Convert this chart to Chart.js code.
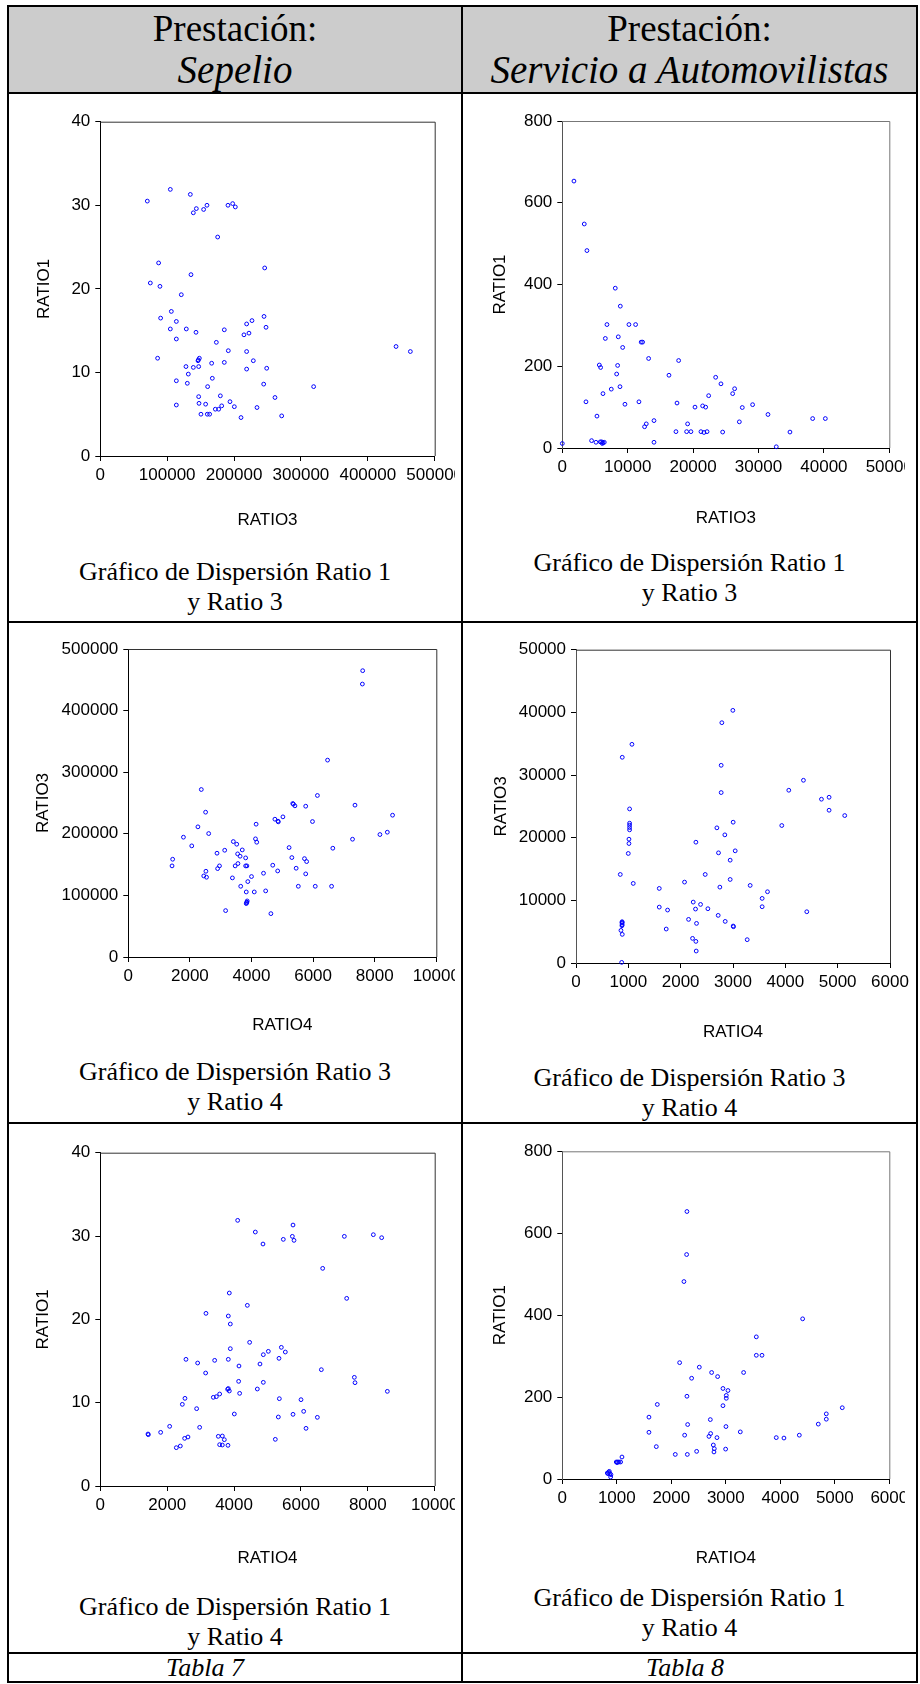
<!DOCTYPE html>
<html>
<head>
<meta charset="utf-8">
<script src="https://cdn.jsdelivr.net/npm/chart.js@4.4.1/dist/chart.umd.min.js"></script>
<style>
  html, body { margin: 0; padding: 0; background: #fff; }
  #page { position: relative; width: 920px; height: 1684px; overflow: hidden; background: #fff; }
  .ln { position: absolute; background: #000; }
  .hdr { position: absolute; background: #cccccc; }
  .txt { position: absolute; text-align: center; font-family: "Liberation Serif", "Times New Roman", serif; color: #000; white-space: nowrap; }
  canvas { position: absolute; }
</style>
</head>
<body>
<div id="page">
  <div class="hdr" style="left:9px; top:7px; width:907px; height:85px;"></div>

  <div class="txt" style="left:9px; top:7.5px; width:452px; font-size:37px; line-height:42px;">Prestación:</div>
  <div class="txt" style="left:9px; top:48px; width:452px; font-size:39px; line-height:44px;"><i>Sepelio</i></div>
  <div class="txt" style="left:463px; top:7.5px; width:453px; font-size:37px; line-height:42px;">Prestación:</div>
  <div class="txt" style="left:463px; top:48px; width:453px; font-size:39px; line-height:44px;"><i>Servicio a Automovilistas</i></div>

  <canvas id="c1"></canvas>
  <canvas id="c2"></canvas>
  <canvas id="c3"></canvas>
  <canvas id="c4"></canvas>
  <canvas id="c5"></canvas>
  <canvas id="c6"></canvas>

  <div class="txt" style="left:9px; top:557px; width:452px; font-size:26px; line-height:29.5px;">Gráfico de Dispersión Ratio 1<br>y Ratio 3</div>
  <div class="txt" style="left:463px; top:548px; width:453px; font-size:26px; line-height:29.5px;">Gráfico de Dispersión Ratio 1<br>y Ratio 3</div>
  <div class="txt" style="left:9px; top:1057px; width:452px; font-size:26px; line-height:29.5px;">Gráfico de Dispersión Ratio 3<br>y Ratio 4</div>
  <div class="txt" style="left:463px; top:1063px; width:453px; font-size:26px; line-height:29.5px;">Gráfico de Dispersión Ratio 3<br>y Ratio 4</div>
  <div class="txt" style="left:9px; top:1592px; width:452px; font-size:26px; line-height:29.5px;">Gráfico de Dispersión Ratio 1<br>y Ratio 4</div>
  <div class="txt" style="left:463px; top:1583px; width:453px; font-size:26px; line-height:29.5px;">Gráfico de Dispersión Ratio 1<br>y Ratio 4</div>

  <div class="txt" style="left:105px; top:1654px; width:200px; font-size:26px; line-height:28px;"><i>Tabla 7</i></div>
  <div class="txt" style="left:585px; top:1654px; width:200px; font-size:26px; line-height:28px;"><i>Tabla 8</i></div>

  <!-- bordes de la tabla -->
  <div class="ln" style="left:7px; top:5px; width:911px; height:2px;"></div>
  <div class="ln" style="left:7px; top:92px; width:911px; height:2px;"></div>
  <div class="ln" style="left:7px; top:621px; width:911px; height:2px;"></div>
  <div class="ln" style="left:7px; top:1122px; width:911px; height:2px;"></div>
  <div class="ln" style="left:7px; top:1652px; width:911px; height:2px;"></div>
  <div class="ln" style="left:7px; top:1681px; width:911px; height:2px;"></div>
  <div class="ln" style="left:7px; top:5px; width:2px; height:1678px;"></div>
  <div class="ln" style="left:461px; top:5px; width:2px; height:1678px;"></div>
  <div class="ln" style="left:916px; top:5px; width:2px; height:1678px;"></div>
</div>

<script>
// Sepelio: RATIO3 (x) vs RATIO1 (y)
const sepelioR3R1 = [
  [70300,30.5],[104700,31.9],[134600,31.3],[143600,29.6],[159500,30.0],[139100,29.1],
  [154500,29.5],[190900,30.0],[197900,30.2],[201900,29.8],[175500,26.2],[87200,23.1],
  [245800,22.5],[135600,21.7],[74800,20.7],[89200,20.3],[121100,19.3],[106200,17.3],
  [90200,16.5],[113700,16.1],[244800,16.7],[226800,16.2],[218800,15.8],[104700,15.2],
  [128600,15.2],[185400,15.1],[247800,15.4],[143100,14.8],[222300,14.7],[214800,14.5],
  [113700,14.0],[173500,13.6],[442200,13.1],[463600,12.5],[191400,12.6],[218800,12.5],
  [85700,11.7],[148100,11.7],[146600,11.5],[146100,11.4],[228800,11.4],[185400,11.2],
  [166500,11.1],[128100,10.7],[139100,10.6],[147100,10.7],[248800,10.5],[218800,10.4],
  [131600,9.8],[167500,9.3],[113700,9.0],[130100,8.7],[244300,8.6],[160500,8.3],
  [319000,8.3],[147100,7.1],[179500,7.2],[261200,7.0],[193900,6.5],[147600,6.3],
  [157500,6.2],[113700,6.1],[181500,6.0],[200400,5.9],[172000,5.6],[177000,5.6],
  [234300,5.8],[150500,5.0],[160000,5.0],[163500,5.0],[210400,4.6],[271200,4.8]
];

// Servicio a Automovilistas: RATIO3 (x) vs RATIO1 (y)
const autoR3R1 = [
  [0,11],[1780,653],[3360,548],[3770,483],[3620,113],[4480,18],[5150,14],[5300,78],
  [5660,203],[5860,197],[5810,15],[6020,15],[6220,13],[6420,14],[6120,11],[6220,133],
  [6580,268],[6830,302],[7490,144],[8100,391],[8310,181],[8460,202],[8560,272],[8820,150],
  [8870,347],[9230,246],[9580,107],[10190,302],[11210,302],[11720,113],[12060,259],[12280,259],
  [12580,52],[12840,59],[13200,219],[14020,67],[14020,14],[16310,178],[17380,40],[17540,110],
  [17790,214],[19010,40],[19160,59],[19670,40],[20290,100],[21200,40],[21460,103],[21660,38],
  [21920,100],[22130,40],[22380,128],[23450,173],[24260,157],[24520,39],[26050,133],[26350,145],
  [27070,64],[27520,99],[29100,106],[31450,82],[32720,3],[34810,39],[38280,72],[40220,72]
];

// Sepelio: RATIO4 (x) vs RATIO3 (y)
const sepelioR4R3 = [
  [1420,147900],[1440,158700],[1790,194500],[2060,180400],[2260,211300],[2370,271900],
  [2450,131600],[2510,235100],[2520,139200],[2540,129500],[2610,200400],[2880,168500],
  [2900,143500],[2960,147900],[3130,173300],[3160,75300],[3380,128400],[3410,187400],
  [3470,147900],[3520,183100],[3550,167400],[3560,151700],[3630,163600],[3650,114800],
  [3700,173800],[3810,160900],[3810,147900],[3850,147900],[3830,105600],[3830,86700],
  [3850,89000],[3860,91000],[3840,88000],[3880,122400],[4000,130600],[4090,105600],
  [4130,191800],[4150,215600],[4170,186300],[4390,136000],[4460,107300],[4630,70400],
  [4690,149000],[4760,223700],[4850,139700],[4860,220500],[4870,219400],[5020,227500],
  [5220,177600],[5310,161400],[5340,249200],[5360,248100],[5410,245400],[5450,144100],
  [5520,114800],[5720,159700],[5760,244800],[5760,134900],[5790,154900],[5980,219900],
  [6070,114800],[6140,262200],[6470,319600],[6600,114800],[6640,176600],[7280,191200],
  [7360,246500],[7600,443100],[7610,464800],[8170,198800],[8410,202600],[8580,230200]
];

// Servicio a Automovilistas: RATIO4 (x) vs RATIO3 (y)
const autoR4R3 = [
  [846,14130],[859,5200],[884,4570],[884,32830],[880,6370],[882,6110],[880,6480],[878,5950],
  [881,6590],[873,100],[1069,34900],[1024,24590],[1024,22310],[1024,21990],[1024,21620],[1024,21250],
  [1012,19760],[1012,19070],[999,17480],[1094,12700],[1591,11900],[1591,8920],[1750,8450],[1724,5420],
  [2074,12910],[2151,6960],[2227,3930],[2240,9720],[2284,8610],[2291,19280],[2303,6320],[2291,3450],
  [2297,1910],[2380,9350],[2469,14130],[2520,8660],[2692,21570],[2717,7600],[2723,17580],[2749,12110],
  [2787,38350],[2774,31550],[2774,27200],[2844,20450],[2851,6640],[2946,16410],[2946,13330],[2997,40320],
  [3003,22470],[3003,5900],[3010,5790],[3042,17900],[3271,3720],[3328,12380],[3557,10310],[3557,8980],
  [3659,11370],[3932,21940],[4066,27570],[4346,29160],[4410,8180],[4690,26140],[4836,26450],[4836,24380],
  [5135,23530]
];

// Sepelio: RATIO4 (x) vs RATIO1 (y)
const sepelioR4R1 = [
  [1426,6.24],[1436,6.16],[1805,6.44],[2074,7.16],[2273,4.6],[2393,4.8],[2453,9.8],[2522,5.72],
  [2532,10.52],[2562,15.2],[2622,5.88],[2881,9.28],[2911,14.76],[2971,7.04],[3150,13.56],[3160,20.72],
  [3380,10.64],[3420,15.08],[3470,10.72],[3529,5.96],[3569,4.96],[3569,11.04],[3649,6.0],[3649,4.92],
  [3709,5.56],[3808,11.6],[3828,11.7],[3858,11.4],[3818,4.88],[3828,15.2],[3828,20.4],[3858,23.16],
  [3888,16.48],[3888,19.44],[4008,8.64],[4108,31.88],[4137,12.56],[4147,14.4],[4167,11.12],[4397,21.68],
  [4466,17.24],[4636,30.48],[4696,11.64],[4775,14.64],[4865,29.04],[4875,15.76],[4875,12.44],[5025,16.16],
  [5234,5.6],[5324,8.28],[5344,15.32],[5354,10.48],[5414,16.64],[5473,29.6],[5533,16.08],[5743,29.96],
  [5763,31.32],[5793,29.48],[5763,8.6],[6002,10.36],[6082,8.96],[6152,6.92],[6491,8.24],[6610,13.96],
  [6650,26.12],[7298,29.96],[7368,22.52],[7597,13.04],[7617,12.4],[8165,30.16],[8414,29.8],[8584,11.36]
];

// Servicio a Automovilistas: RATIO4 (x) vs RATIO1 (y)
const autoR4R1 = [
  [826,14.6],[850,16.3],[875,13],[893,10.6],[862,18.7],[838,13],[887,4.9],[990,41.5],
  [1015,41.5],[1040,41.5],[1005,40],[1070,41.5],[1095,53.7],[1590,151],[1590,114],[1725,79],
  [1743,182],[2073,60],[2153,284],[2232,482],[2245,107],[2281,548],[2287,653],[2287,202],
  [2294,60],[2300,133],[2373,246],[2465,67.5],[2514,273],[2691,104],[2716,145],[2722,111],
  [2740,260],[2771,83],[2789,74],[2783,66],[2838,101],[2850,250],[2948,221],[2948,179],
  [2997,73],[3003,128],[3009,204],[3009,197],[3040,216],[3266,115],[3327,260],[3560,347],
  [3560,302],[3664,302],[3926,101],[4067,100],[4349,107],[4410,391],[4697,134],[4844,146],
  [4844,159],[5137,174]
];

Chart.defaults.font.family = '"Liberation Sans", Arial, sans-serif';
Chart.defaults.font.size = 17;
Chart.defaults.color = '#000';

const X_AXIS_H = 92;

// marco superior/derecho del grafico
const framePlugin = {
  id: 'frame',
  beforeDatasetsDraw(chart, args, opts) {
    const a = chart.chartArea;
    const ctx = chart.ctx;
    ctx.save();
    ctx.strokeStyle = opts.color || '#555';
    ctx.lineWidth = 1;
    ctx.beginPath();
    ctx.moveTo(a.left, a.top + 0.5);
    ctx.lineTo(a.right + 0.5, a.top + 0.5);
    ctx.lineTo(a.right + 0.5, a.bottom);
    ctx.stroke();
    ctx.restore();
  }
};

function makeChart(p) {
  const cv = document.getElementById(p.id);
  const w = p.canvasRight - p.canvasLeft;
  const h = Math.round(p.areaBottom - p.canvasTop + X_AXIS_H);
  cv.width = w;
  cv.height = h;
  cv.style.left = p.canvasLeft + 'px';
  cv.style.top = p.canvasTop + 'px';
  cv.style.width = w + 'px';
  cv.style.height = h + 'px';

  const yWidth = p.areaLeft - p.canvasLeft;

  new Chart(cv, {
    type: 'scatter',
    data: {
      datasets: [{
        data: p.data.map(d => ({ x: d[0], y: d[1] })),
        borderColor: '#0000ff',
        backgroundColor: 'rgba(0,0,0,0)',
        pointRadius: 1.9,
        pointBorderWidth: 1,
        pointHoverRadius: 1.9,
        clip: false
      }]
    },
    plugins: [framePlugin],
    options: {
      responsive: false,
      animation: false,
      devicePixelRatio: 1,
      events: [],
      layout: {
        padding: { left: 0, right: p.canvasRight - p.areaRight, top: p.areaTop - p.canvasTop, bottom: 0 }
      },
      plugins: {
        legend: { display: false },
        tooltip: { enabled: false },
        frame: { color: p.frameColor }
      },
      scales: {
        x: {
          type: 'linear',
          min: 0,
          max: p.xMax,
          border: { display: true, color: '#000', width: 1 },
          grid: { display: true, drawOnChartArea: false, drawTicks: true, tickLength: 5, tickColor: '#000' },
          ticks: {
            stepSize: p.xStep,
            autoSkip: false,
            maxRotation: 0,
            minRotation: 0,
            padding: 4,
            callback: v => String(v)
          },
          title: {
            display: true,
            text: p.xTitle,
            font: { size: 17 },
            padding: { top: 0, bottom: X_AXIS_H - 10.2 - p.xTitleOff }
          },
          afterFit(s) {
            s.height = X_AXIS_H;
            s.paddingLeft = 0;
            s.paddingRight = 0;
          }
        },
        y: {
          type: 'linear',
          min: 0,
          max: p.yMax,
          border: { display: true, color: p.yAxisColor, width: 1 },
          grid: { display: true, drawOnChartArea: false, drawTicks: true, tickLength: 5, tickColor: '#000' },
          ticks: {
            stepSize: p.yStep,
            autoSkip: false,
            padding: 5,
            callback: v => String(v)
          },
          title: {
            display: true,
            text: p.yTitle,
            font: { size: 17 },
            padding: { top: p.yTitleX - p.canvasLeft - 10.2, bottom: 0 }
          },
          afterFit(s) {
            s.width = yWidth;
            s.paddingTop = 0;
            s.paddingBottom = 0;
          }
        }
      }
    }
  });
}

const panels = [
  { id: 'c1', data: sepelioR3R1, xMax: 500000, xStep: 100000, yMax: 40, yStep: 10,
    xTitle: 'RATIO3', yTitle: 'RATIO1', canvasLeft: 10, canvasRight: 455, canvasTop: 96,
    areaLeft: 100.3, areaRight: 434.7, areaTop: 121.7, areaBottom: 455.7,
    yTitleX: 44, xTitleOff: 64, frameColor: '#333', yAxisColor: '#000' },
  { id: 'c2', data: autoR3R1, xMax: 50000, xStep: 10000, yMax: 800, yStep: 200,
    xTitle: 'RATIO3', yTitle: 'RATIO1', canvasLeft: 465, canvasRight: 905, canvasTop: 96,
    areaLeft: 562.3, areaRight: 889.3, areaTop: 121, areaBottom: 448,
    yTitleX: 500, xTitleOff: 70, frameColor: '#777', yAxisColor: '#555' },
  { id: 'c3', data: sepelioR4R3, xMax: 10000, xStep: 2000, yMax: 500000, yStep: 100000,
    xTitle: 'RATIO4', yTitle: 'RATIO3', canvasLeft: 10, canvasRight: 455, canvasTop: 626,
    areaLeft: 128.3, areaRight: 436.3, areaTop: 649, areaBottom: 956.7,
    yTitleX: 43, xTitleOff: 68, frameColor: '#333', yAxisColor: '#000' },
  { id: 'c4', data: autoR4R3, xMax: 6000, xStep: 1000, yMax: 50000, yStep: 10000,
    xTitle: 'RATIO4', yTitle: 'RATIO3', canvasLeft: 465, canvasRight: 910, canvasTop: 626,
    areaLeft: 576, areaRight: 890, areaTop: 649.7, areaBottom: 963.3,
    yTitleX: 501, xTitleOff: 69, frameColor: '#333', yAxisColor: '#555' },
  { id: 'c5', data: sepelioR4R1, xMax: 10000, xStep: 2000, yMax: 40, yStep: 10,
    xTitle: 'RATIO4', yTitle: 'RATIO1', canvasLeft: 10, canvasRight: 455, canvasTop: 1126,
    areaLeft: 100.3, areaRight: 434.7, areaTop: 1152.7, areaBottom: 1486,
    yTitleX: 43, xTitleOff: 72, frameColor: '#333', yAxisColor: '#000' },
  { id: 'c6', data: autoR4R1, xMax: 6000, xStep: 1000, yMax: 800, yStep: 200,
    xTitle: 'RATIO4', yTitle: 'RATIO1', canvasLeft: 465, canvasRight: 905, canvasTop: 1126,
    areaLeft: 562.3, areaRight: 889.3, areaTop: 1151.3, areaBottom: 1479.3,
    yTitleX: 500, xTitleOff: 79, frameColor: '#777', yAxisColor: '#555' }
];

panels.forEach(makeChart);
</script>
</body>
</html>
